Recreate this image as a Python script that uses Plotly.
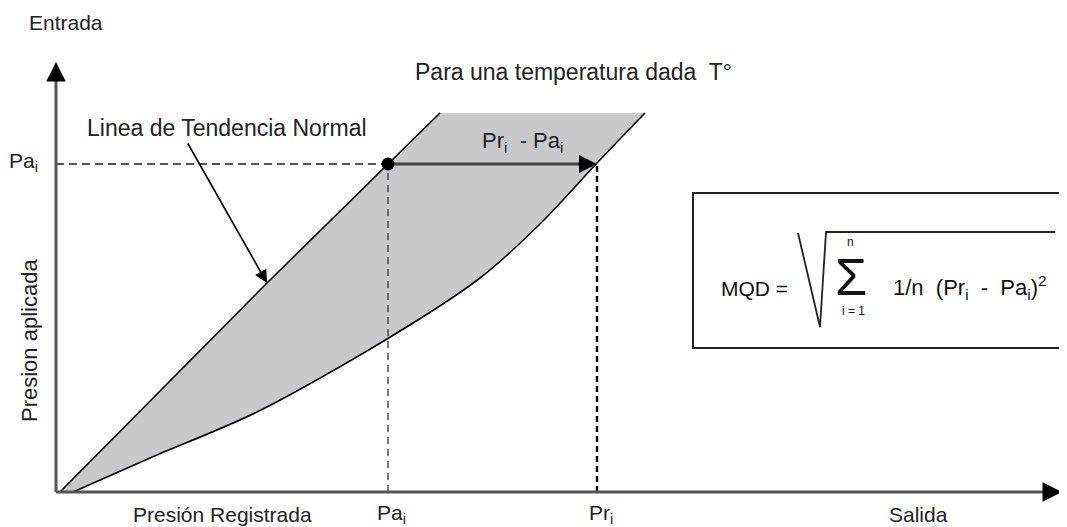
import plotly.graph_objects as go

# coordenadas del diagrama (origen en el cruce de los ejes)
linea_normal_x = [4, 211, 332, 384]
linea_normal_y = [0, 209, 328, 379]
borde_superior_x = [384, 589]
borde_superior_y = [379, 379]
curva_registrada_x = [17, 94, 201, 331, 424, 487, 541, 589]
curva_registrada_y = [0, 34, 80, 153, 214, 271, 329, 379]

pa_x, pa_y = 332, 328      # punto Pa_i sobre la linea normal
pr_x = 541                 # Pr_i sobre la curva registrada

eje_x_fin = 1006
eje_y_fin = 430

fuente = "Liberation Sans, Arial, sans-serif"
gris_relleno = "#c9c9cb"

fig = go.Figure()

# zona sombreada entre la linea normal y la curva registrada
poly_x = linea_normal_x + borde_superior_x[1:] + curva_registrada_x[::-1][1:]
poly_y = linea_normal_y + borde_superior_y[1:] + curva_registrada_y[::-1][1:]
fig.add_trace(go.Scatter(x=poly_x, y=poly_y, mode="lines", fill="toself",
                         fillcolor=gris_relleno, line=dict(width=0), hoverinfo="skip"))

fig.add_trace(go.Scatter(x=curva_registrada_x, y=curva_registrada_y, mode="lines",
                         line=dict(color="black", width=1.6, shape="spline", smoothing=0.8),
                         hoverinfo="skip"))
fig.add_trace(go.Scatter(x=linea_normal_x, y=linea_normal_y, mode="lines",
                         line=dict(color="black", width=1.6), hoverinfo="skip"))

# lineas de referencia punteadas
fig.add_trace(go.Scatter(x=[0, pa_x], y=[pa_y, pa_y], mode="lines",
                         line=dict(color="#555", width=2, dash="8px,5px"), hoverinfo="skip"))
fig.add_trace(go.Scatter(x=[pa_x, pa_x], y=[0, pa_y], mode="lines",
                         line=dict(color="#333", width=1.3, dash="7px,5px"), hoverinfo="skip"))
fig.add_trace(go.Scatter(x=[pr_x, pr_x], y=[0, pa_y], mode="lines",
                         line=dict(color="black", width=2.4, dash="6px,4px"), hoverinfo="skip"))

# flecha Pr_i - Pa_i
fig.add_trace(go.Scatter(x=[pa_x, pr_x - 14], y=[pa_y, pa_y], mode="lines",
                         line=dict(color="#444", width=3), hoverinfo="skip"))
fig.add_trace(go.Scatter(x=[pa_x], y=[pa_y], mode="markers",
                         marker=dict(color="black", size=13), hoverinfo="skip"))

# ejes
fig.add_trace(go.Scatter(x=[0, eje_x_fin - 10], y=[0, 0], mode="lines",
                         line=dict(color="#555", width=3), hoverinfo="skip"))
fig.add_trace(go.Scatter(x=[0, 0], y=[0, eje_y_fin - 10], mode="lines",
                         line=dict(color="#555", width=3), hoverinfo="skip"))

flechas = [
    dict(x=eje_x_fin, y=0, ax=eje_x_fin - 20, ay=0, arrowcolor="black", arrowwidth=3, arrowsize=1.3),
    dict(x=0, y=eje_y_fin, ax=0, ay=eje_y_fin - 20, arrowcolor="black", arrowwidth=3, arrowsize=1.3),
    dict(x=pr_x, y=pa_y, ax=pr_x - 20, ay=pa_y, arrowcolor="black", arrowwidth=3, arrowsize=1.2),
    dict(x=211, y=209, ax=131, ay=350, arrowcolor="black", arrowwidth=1.6, arrowsize=1.6),
]
for f in flechas:
    fig.add_annotation(xref="x", yref="y", axref="x", ayref="y", text="", showarrow=True,
                       arrowhead=2, standoff=0, **f)

textos = [
    ("Entrada", 10, 470, 21, 0),
    ("Para una temperatura dada  T°", 517, 420, 23, 0),
    ("Linea de Tendencia Normal", 171, 364, 23, 0),
    ("Pa<sub>i</sub>", -33, 330, 21, 0),
    ("Presion aplicada", -27, 151, 22, -90),
    ("Pr<sub>i</sub>  - Pa<sub>i</sub>", 466, 350, 22, 0),
    ("Presión Registrada", 166, -22, 21, 0),
    ("Pa<sub>i</sub>", 335, -22, 21, 0),
    ("Pr<sub>i</sub>", 545, -22, 21, 0),
    ("Salida", 862, -22, 21, 0),
]
for t, x, y, s, rot in textos:
    fig.add_annotation(x=x, y=y, text=t, showarrow=False, textangle=rot,
                       font=dict(family=fuente, size=s, color="#222"))

# recuadro con la formula MQD
fig.add_shape(type="rect", x0=637, x1=1030, y0=144, y1=299,
              line=dict(color="#222", width=2), fillcolor="white", layer="below")
fig.add_shape(type="path", path="M 742,259 L 764,165 L 770,260 L 999,260",
              line=dict(color="#222", width=1.8))
formula = [
    ("MQD =", 698, 204, 21),
    ("Σ", 795, 215, 52),
    ("n", 794, 250, 12),
    ("i = 1", 797, 181, 12),
    ("1/n  (Pr<sub>i</sub>  -  Pa<sub>i</sub>)<sup>2</sup>", 914, 205, 22),
]
for t, x, y, s in formula:
    fig.add_annotation(x=x, y=y, text=t, showarrow=False,
                       font=dict(family=fuente, size=s, color="#111"))

# la pagina tiene 8px de margen en body: la figura se ajusta para que el
# origen quede en (56, 492) de la ventana
fig.update_layout(
    width=1059, height=519,
    margin=dict(l=0, r=0, t=0, b=0),
    showlegend=False,
    plot_bgcolor="white", paper_bgcolor="white",
    xaxis=dict(visible=False, range=[-48, 1011], fixedrange=True),
    yaxis=dict(visible=False, range=[-35, 484], fixedrange=True),
)

fig.write_html("out.html")
